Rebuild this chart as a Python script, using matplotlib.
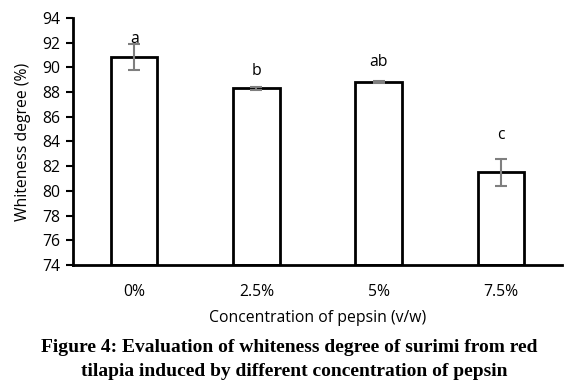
import matplotlib
matplotlib.use("Agg")
import matplotlib.pyplot as plt

categories = ["0%", "2.5%", "5%", "7.5%"]
whiteness = [90.8, 88.3, 88.8, 81.5]
errors = [1.05, 0.1, 0.05, 1.08]
letters = ["a", "b", "ab", "c"]
letter_y = [92.3, 89.7, 90.4, 84.5]

plt.rcParams["font.family"] = ["Open Sans", "DejaVu Sans"]
FS = 11.3

fig = plt.figure(figsize=(5.71, 3.88), dpi=100)
ax = fig.add_axes([0.128, 0.317, 0.856, 0.637])

x = range(len(categories))
ax.bar(x, [w - 74 for w in whiteness], bottom=74, width=0.38, color="white",
       edgecolor="black", linewidth=2, zorder=2)
ax.errorbar(x, whiteness, yerr=errors, fmt="none", ecolor="#7f7f7f",
            elinewidth=1.5, capsize=4, capthick=1.5, zorder=3)
for xi, lab, ly in zip(x, letters, letter_y):
    ax.text(xi, ly, lab, ha="center", va="center", fontsize=FS)

ax.set_ylim(74, 94)
ax.set_xlim(-0.5, 3.5)
ax.set_yticks(range(74, 95, 2))
ax.set_xticks(list(x))
ax.set_xticklabels(categories)
ax.tick_params(axis="y", length=5, width=1.5, labelsize=FS, pad=4)
ax.tick_params(axis="x", length=0, labelsize=FS, pad=14)
for s in ("top", "right"):
    ax.spines[s].set_visible(False)
for s in ("left", "bottom"):
    ax.spines[s].set_linewidth(2)
ax.set_ylabel("Whiteness degree (%)", fontsize=FS, labelpad=8)
ax.set_xlabel("Concentration of pepsin (v/w)", fontsize=FS, labelpad=7)

fig.text(0.506, 0.105, "Figure 4: Evaluation of whiteness degree of surimi from red",
         ha="center", va="center", fontsize=14, fontweight="bold",
         family="Liberation Serif")
fig.text(0.515, 0.043, "tilapia induced by different concentration of pepsin",
         ha="center", va="center", fontsize=14, fontweight="bold",
         family="Liberation Serif")

fig.savefig("out.png", dpi=100, facecolor="white")
